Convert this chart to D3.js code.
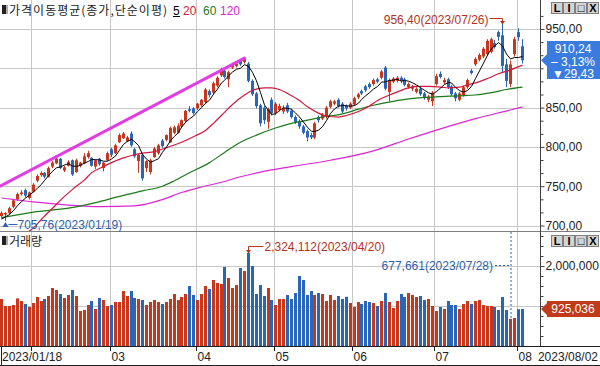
<!DOCTYPE html>
<html>
<head>
<meta charset="utf-8">
<script src="https://cdn.jsdelivr.net/npm/d3@7"></script>
<style>
  body { margin: 0; background: #fff; }
  svg { display: block; }
  text { font-family: "Liberation Sans", Arial, sans-serif; font-size: 12px; }
  .ko { font-family: "Noto Sans CJK KR", sans-serif; }
</style>
</head>
<body>
<svg id="chart" width="600" height="366"></svg>
<script>
// trading days shown on the chart
var dates = [
  "2023/01/18","2023/01/19","2023/01/20","2023/01/25","2023/01/26","2023/01/27","2023/01/30","2023/01/31",
  "2023/02/01","2023/02/02","2023/02/03","2023/02/06","2023/02/07","2023/02/08","2023/02/09","2023/02/10","2023/02/13","2023/02/14",
  "2023/02/15","2023/02/16","2023/02/17","2023/02/20","2023/02/21","2023/02/22","2023/02/23","2023/02/24","2023/02/27","2023/02/28",
  "2023/03/02","2023/03/03","2023/03/06","2023/03/07","2023/03/08","2023/03/09","2023/03/10","2023/03/13","2023/03/14","2023/03/15",
  "2023/03/16","2023/03/17","2023/03/20","2023/03/21","2023/03/22","2023/03/23","2023/03/24","2023/03/27","2023/03/28","2023/03/29",
  "2023/03/30","2023/03/31",
  "2023/04/03","2023/04/04","2023/04/05","2023/04/06","2023/04/07","2023/04/10","2023/04/11","2023/04/12","2023/04/13","2023/04/14",
  "2023/04/17","2023/04/18","2023/04/19","2023/04/20","2023/04/21","2023/04/24","2023/04/25","2023/04/26","2023/04/27","2023/04/28",
  "2023/05/02","2023/05/03","2023/05/04","2023/05/08","2023/05/09","2023/05/10","2023/05/11","2023/05/12","2023/05/15","2023/05/16",
  "2023/05/17","2023/05/18","2023/05/19","2023/05/22","2023/05/23","2023/05/24","2023/05/25","2023/05/26","2023/05/30","2023/05/31",
  "2023/06/01","2023/06/02","2023/06/05","2023/06/07","2023/06/08","2023/06/09","2023/06/12","2023/06/13","2023/06/14","2023/06/15",
  "2023/06/16","2023/06/19","2023/06/20","2023/06/21","2023/06/22","2023/06/23","2023/06/26","2023/06/27","2023/06/28","2023/06/29",
  "2023/06/30",
  "2023/07/03","2023/07/04","2023/07/05","2023/07/06","2023/07/07","2023/07/10","2023/07/11","2023/07/12","2023/07/13","2023/07/14",
  "2023/07/17","2023/07/18","2023/07/19","2023/07/20","2023/07/21","2023/07/24","2023/07/25","2023/07/26","2023/07/27","2023/07/28",
  "2023/07/31",
  "2023/08/01","2023/08/02"
];

var opens = [
  712,714,716,724,733,740,745,735,743,757, 764,767,762,775,779,785,770,776,783,768,
  776,779,787,786,775,785,773,783,797,792, 806,811,807,817,797,782,790,773,768,787,
  792,808,809,806,818,818,826,833,848,849, 849,853,857,871,869,878,891,897,886,901,
  903,910,908,906,884,868,853,850,832,860, 843,847,845,853,846,838,833,826,820,815,
  812,838,836,838,851,855,860,855,852,850, 854,863,871,877,880,880,886,888,901,870,
  883,884,888,886,876,874,870,874,868,860, 858,880,893,882,886,877,868,860,866,876,
  897,905,911,915,918,921,932,946,942,905, 880,918,946,928
];
var highs = [
  718,717,724,734,742,745,747,743,754,765, 769,768,775,782,787,786,776,783,784,785,
  781,792,795,787,784,786,781,794,799,804, 817,819,814,820,799,791,792,783,785,800,
  804,810,816,826,827,830,835,847,852,851, 856,861,875,873,883,890,901,900,897,907,
  908,912,914,908,886,870,855,852,850,863, 857,855,853,856,848,840,835,828,822,818,
  832,840,843,852,860,860,862,857,854,857, 864,869,873,879,882,887,888,898,903,887,
  889,890,890,888,882,879,876,876,870,866, 871,893,896,888,888,879,870,870,878,887,
  899,914,919,927,937,939,936,948,956.4,912, 910,940,951,937
];
var lows = [
  709,705.76,714,722,731,738,736,733,742,755, 762,760,761,773,778,772,768,775,763,767,
  774,778,785,775,772,776,769,782,787,791, 805,810,806,800,786,767,757,768,765,786,
  790,799,807,805,816,817,824,831,844,841, 847,851,855,863,867,876,889,887,876,899,
  901,903,906,882,865,849,826,829,823,840, 841,845,842,843,836,829,823,816,807,810,
  810,831,834,836,849,853,850,843,846,848, 852,861,866,870,874,878,881,886,872,858,
  881,882,881,877,874,871,868,865,860,857, 852,878,887,880,874,865,858,858,864,874,
  892,903,909,913,916,919,925,935,895,876, 876,915,935,906
];
var closes = [
  716,716,722,732,740,742,738,742,752,763, 767,762,773,780,785,773,774,781,765,783,
  780,788,792,776,783,778,780,792,790,802, 815,817,812,802,788,790,760,782,783,798,
  802,801,815,824,825,827,834,846,846,843, 855,860,873,866,881,888,899,889,895,905,
  906,905,912,884,867,852,830,834,848,843, 855,852,850,845,838,831,826,818,812,812,
  830,834,841,850,858,858,852,845,849,855, 862,867,868,872,876,885,883,896,874,885,
  887,888,884,879,880,877,874,867,862,864, 869,890,889,885,876,867,862,868,876,885,
  894,912,917,925,935,937,927,940,903,884, 905,937,939.67,910.24
];
var volumes = [
  1175000,1000000,1000000,1025000,1190000,1125000,1050000,975000,1075000,1225000,
  1125000,1175000,1250000,1450000,1400000,1300000,1200000,1275000,1400000,1250000,
  875000,900000,1025000,1125000,925000,1200000,1150000,1000000,1025000,1100000,
  1100000,1375000,1250000,1375000,1200000,1175000,1150000,1025000,1100000,1150000,
  1100000,1050000,1100000,1175000,1300000,1150000,1225000,1300000,1500000,1275000,
  1150000,1300000,1500000,1425000,1650000,1575000,1550000,1975000,1700000,1450000,
  1525000,1950000,1875000,2324112,2000000,1300000,1525000,1250000,1450000,1150000,
  1025000,1175000,1175000,1275000,1175000,1325000,1750000,1650000,1275000,1375000,
  1275000,1325000,1300000,1125000,1275000,1150000,1250000,1175000,1230000,1075000,
  975000,1100000,1050000,1125000,1100000,1075000,1000000,1125000,1325000,1100000,
  950000,1125000,1300000,1225000,1325000,1275000,1225000,1250000,1150000,1175000,
  1000000,875000,975000,925000,1125000,1025000,1025000,925000,1050000,1125000,
  1050000,1125000,1150000,1025000,1000000,1000000,975000,900000,1225000,900000,
  677661,700000,920000,925036
];

// moving averages: 5-day per candle, longer ones read at points [index, value]
var ma5 = [
  708,711,714,719,725.2,730.4,734.8,738.8,742.8,747.4, 752.4,757.2,763.4,769,773.4,774.6,777,778.6,775.6,775.2,
  776.6,779.4,781.6,783.8,783.8,783.4,781.8,781.8,784.6,788.4, 795.8,803.2,807.2,809.6,806.8,801.8,790.4,784.4,780.6,782.6,
  785,793.2,799.8,808,813.4,818.4,825,831.2,835.6,839.2, 844.8,850,855.4,859.4,867,873.6,881.4,884.6,890.4,895.2,
  898.8,900,904.6,902.4,894.8,884,869,853.4,846.2,841.4, 842,846.4,849.6,849,848,843.2,838,831.6,825,819.8,
  819.6,821.2,825.8,833.4,842.6,848.2,851.8,852.6,852.4,851.8, 852.6,855.6,860.2,864.8,869,873.6,876.8,882.4,882.8,884.6,
  885,886,883.6,884.6,883.6,881.6,878.8,875.4,872,868.8, 867.2,870.4,874.8,879.4,881.8,881.4,875.8,871.6,869.8,871.6,
  877,887,896.8,906.6,916.6,925.2,928.2,932.8,928.4,918.2, 911.8,913.8,913.7,915.2
];
var ma20 = [[6,690],[8,697],[10,708],[13,722],[16,737],[18,746],[21,758],[23,767],[26,775],[28,780],[31,786],
  [34,790],[36,792],[39,794],[42,799],[46,806],[49,813],[52,821],[54,830],[57,844],[59,854],[62,866],[64,872],
  [67,875],[69,875],[71,873],[73,868],[76,859],[78,851],[81,843],[83,839],[86,838],[88,840],[91,845],[94,852],
  [96,859],[99,866],[101,870],[104,875],[106,877],[109,877],[112,876],[114,875],[117,876],[119,879],[122,883],
  [124,887],[127,893],[130,898],[133,904]];
var ma60 = [[0,710],[8,717],[17,722],[24,729],[30,737],[36,744],[41,750],[44,757],[48,767],[53,780],[57,793],
  [61,806],[65,815],[70,824],[74,830],[78,834],[82,838],[87,842],[91,848],[95,853],[100,858],[104,861],[108,863],
  [112,864],[117,865],[121,866],[125,869],[129,873],[133,876]];
var ma120 = [[0,735],[8,730],[17,726],[25,724],[34,725],[41,733],[46,742],[51,749],[56,755],[61,762],[66,768],
  [74,775],[84,783],[95,795],[104,810],[112,823],[121,836],[130,847],[133,851]];

// trend line drawn on the chart [index, price]
var trendLine = [[0, 750], [62, 913]];

var priceTicks = [700, 750, 800, 850, 900, 950];
var priceLabels = [700, 750, 800, 850, 950];   // 900 sits under the price box
var volTicks = [1000000, 2000000];
var volLabels = [2000000];                      // 1,000,000 sits under the volume box

var svg = d3.select("#chart");
var plotRight = 540;
var priceTop = 0, priceBottom = 231;
var volTop = 232, volBottom = 346;

var upColor = "#c8361c", downColor = "#2a66b8";
var gridColor = "#c8c8c8";

var x = d3.scaleBand().domain(d3.range(138)).range([0, plotRight]);
function bx(i) { return Math.round(x(i) + 0.45); } // left of body / bar
function cx(i) { return bx(i) + 1.5; }              // centre of candle
var yP = d3.scaleLinear().domain([700, 950]).range([225.5, 29]);
var yV = d3.scaleLinear().domain([0, 2000000]).range([volBottom, 266]);

var fmtPrice = function(v) { return d3.format(".2f")(v).replace(".", ","); };
var fmtVol = d3.format(",");

var defs = svg.append("defs");
defs.append("clipPath").attr("id", "clipP").append("rect")
    .attr("x", 0).attr("y", priceTop).attr("width", plotRight).attr("height", priceBottom - priceTop);
defs.append("clipPath").attr("id", "clipV").append("rect")
    .attr("x", 0).attr("y", volTop).attr("width", plotRight).attr("height", volBottom - volTop);

// first trading day of every month
var monthStarts = [];
dates.forEach(function(d, i) {
  if (i > 0 && d.slice(5, 7) !== dates[i - 1].slice(5, 7)) monthStarts.push(i);
});

// ---------- grid ----------
var grid = svg.append("g").attr("stroke", gridColor).attr("stroke-width", 1);
monthStarts.forEach(function(i) {
  var gx = Math.round(x(i)) + 0.5;
  grid.append("line").attr("x1", gx).attr("x2", gx).attr("y1", priceTop).attr("y2", priceBottom);
  grid.append("line").attr("x1", gx).attr("x2", gx).attr("y1", volTop).attr("y2", volBottom);
});
priceTicks.forEach(function(v) {
  var gy = Math.round(yP(v)) + 0.5;
  grid.append("line").attr("x1", 0).attr("x2", plotRight).attr("y1", gy).attr("y2", gy);
});
volTicks.forEach(function(v) {
  var gy = Math.round(yV(v)) + 0.5;
  grid.append("line").attr("x1", 0).attr("x2", plotRight).attr("y1", gy).attr("y2", gy);
});

// ---------- candles ----------
var pg = svg.append("g").attr("clip-path", "url(#clipP)");
var candle = pg.selectAll("g.candle").data(dates).enter().append("g")
    .attr("fill", function(d, i) { return closes[i] >= opens[i] ? upColor : downColor; })
    .attr("stroke", function(d, i) { return closes[i] >= opens[i] ? upColor : downColor; });
candle.append("line")
    .attr("x1", function(d, i) { return cx(i); })
    .attr("x2", function(d, i) { return cx(i); })
    .attr("y1", function(d, i) { return yP(highs[i]); })
    .attr("y2", function(d, i) { return yP(lows[i]); });
candle.append("rect")
    .attr("stroke", "none")
    .attr("x", function(d, i) { return bx(i); })
    .attr("width", 3)
    .attr("y", function(d, i) { return yP(Math.max(opens[i], closes[i])); })
    .attr("height", function(d, i) { return Math.max(1, yP(Math.min(opens[i], closes[i])) - yP(Math.max(opens[i], closes[i]))); });

// ---------- moving averages ----------
var smooth = d3.line().x(function(d) { return cx(d[0]); }).y(function(d) { return yP(d[1]); }).curve(d3.curveMonotoneX);
pg.append("path").datum(ma120).attr("d", smooth).attr("fill", "none").attr("stroke", "#e024d8").attr("stroke-width", 1.2);
pg.append("path").datum(ma60).attr("d", smooth).attr("fill", "none").attr("stroke", "#1c7a1c").attr("stroke-width", 1.2);
pg.append("path").datum(ma20).attr("d", smooth).attr("fill", "none").attr("stroke", "#d2183c").attr("stroke-width", 1.2);
pg.append("path").datum(ma5.map(function(v, i) { return [i, v]; }))
    .attr("d", d3.line().x(function(d) { return cx(d[0]); }).y(function(d) { return yP(d[1]); }))
    .attr("fill", "none").attr("stroke", "#000").attr("stroke-width", 1);

// trend line
pg.append("line")
    .attr("x1", 0).attr("y1", yP(trendLine[0][1]))
    .attr("x2", cx(trendLine[1][0])).attr("y2", yP(trendLine[1][1]))
    .attr("stroke", "#e23ce4").attr("stroke-width", 3).attr("stroke-linecap", "round");

// ---------- volume ----------
var vg = svg.append("g").attr("clip-path", "url(#clipV)");
vg.selectAll("rect").data(volumes).enter().append("rect")
    .attr("x", function(d, i) { return bx(i); })
    .attr("width", 3)
    .attr("y", function(d) { return yV(d); })
    .attr("height", function(d) { return volBottom - yV(d); })
    .attr("fill", function(d, i) { return closes[i] >= opens[i] ? upColor : downColor; });

// ---------- frame & right axes ----------
svg.append("line").attr("x1", 0).attr("x2", 600).attr("y1", 231.5).attr("y2", 231.5).attr("stroke", "#808080");
svg.append("line").attr("x1", plotRight + 0.5).attr("x2", plotRight + 0.5).attr("y1", 0).attr("y2", volBottom).attr("stroke", "#404040");

function rightAxis(scale, values, size, fmt) {
  var a = svg.append("g").attr("transform", "translate(" + (plotRight + 0.5) + ",0)")
      .call(d3.axisRight(scale).tickValues(values).tickSize(size).tickPadding(1).tickFormat(fmt));
  a.select(".domain").remove();
  a.selectAll("text").attr("fill", "#222").style("font-family", "Liberation Sans, Arial, sans-serif").style("font-size", "12px");
  a.selectAll("line").attr("stroke", "#404040");
  return a;
}
rightAxis(yP, priceLabels, 4, fmtPrice);
rightAxis(yP, d3.range(700, 975, 50 / 3).filter(function(v) { return priceLabels.indexOf(v) < 0; }), 3, function() { return null; });
rightAxis(yV, volLabels, 4, fmtVol);
rightAxis(yV, d3.range(250000, 2750001, 250000).filter(function(v) { return volLabels.indexOf(v) < 0; }), 3, function() { return null; });
svg.selectAll("g.tick text").filter(function() { return this.textContent === ""; }).remove();

// ---------- bottom date axis ----------
svg.append("line").attr("x1", 0).attr("x2", 600).attr("y1", 346.5).attr("y2", 346.5).attr("stroke", "#202020");
svg.append("line").attr("x1", 0).attr("x2", 600).attr("y1", 365.5).attr("y2", 365.5).attr("stroke", "#202020");
svg.append("line").attr("x1", 1.5).attr("x2", 1.5).attr("y1", 346).attr("y2", 366).attr("stroke", "#202020");
var xa = svg.append("g");
monthStarts.forEach(function(i) {
  var tx = Math.round(x(i)) + 0.5;
  xa.append("line").attr("x1", tx).attr("x2", tx).attr("y1", 347).attr("y2", 351).attr("stroke", "#202020");
  if (tx > 64) xa.append("text").attr("x", tx + 1).attr("y", 361).attr("fill", "#222").text(dates[i].slice(5, 7));
});
xa.append("text").attr("x", 2).attr("y", 361).attr("fill", "#222").text(dates[0]);
xa.append("text").attr("x", 598).attr("y", 361).attr("text-anchor", "end").attr("fill", "#222").text(dates[dates.length - 1]);

// ---------- max / min annotations ----------
var hiIdx = d3.maxIndex(highs), loIdx = d3.minIndex(lows);
var vHiIdx = d3.maxIndex(volumes), vLoIdx = d3.minIndex(volumes);
var red = "#b3321e", blue = "#2d5fae";

var hx = cx(hiIdx), hy = yP(highs[hiIdx]);
svg.append("path").attr("d", "M" + (hx - 13) + "," + (hy - 5.5) + "H" + hx + "V" + (hy - 1))
    .attr("fill", "none").attr("stroke", red);
svg.append("path").attr("d", "M" + (hx - 2.5) + "," + (hy - 3) + "L" + (hx + 2.5) + "," + (hy - 3) + "L" + hx + "," + (hy + 0.5) + "Z").attr("fill", red);
svg.append("text").attr("x", hx - 14).attr("y", hy).attr("text-anchor", "end").attr("fill", red)
    .text(fmtPrice(highs[hiIdx]) + "(" + dates[hiIdx] + ")");

var lx = cx(loIdx), ly = yP(lows[loIdx]);
svg.append("path").attr("d", "M" + (lx - 3) + "," + (ly + 6) + "L" + (lx + 3) + "," + (ly + 6) + "L" + lx + "," + (ly + 1) + "Z").attr("fill", blue);
svg.append("line").attr("x1", lx + 3).attr("x2", lx + 12).attr("y1", ly + 3.5).attr("y2", ly + 3.5).attr("stroke", blue);
svg.append("text").attr("x", lx + 12).attr("y", ly + 8).attr("fill", blue)
    .text(fmtPrice(lows[loIdx]) + "(" + dates[loIdx] + ")");

var vhx = cx(vHiIdx), vhy = yV(volumes[vHiIdx]);
svg.append("path").attr("d", "M" + (vhx + 15) + "," + (vhy - 6.5) + "H" + vhx + "V" + (vhy - 1))
    .attr("fill", "none").attr("stroke", red);
svg.append("path").attr("d", "M" + (vhx - 2.5) + "," + (vhy - 3) + "L" + (vhx + 2.5) + "," + (vhy - 3) + "L" + vhx + "," + (vhy + 0.5) + "Z").attr("fill", red);
svg.append("text").attr("x", vhx + 16).attr("y", vhy - 2).attr("fill", red)
    .text(fmtVol(volumes[vHiIdx]) + "(" + dates[vHiIdx] + ")");

var vlx = cx(vLoIdx) + 0.5;
svg.append("line").attr("x1", vlx).attr("x2", vlx).attr("y1", volTop).attr("y2", volBottom)
    .attr("stroke", blue).attr("stroke-dasharray", "2,2");
svg.append("line").attr("x1", vlx - 16).attr("x2", vlx).attr("y1", 265.5).attr("y2", 265.5)
    .attr("stroke", blue).attr("stroke-dasharray", "2,2");
svg.append("text").attr("x", vlx - 18).attr("y", 270).attr("text-anchor", "end").attr("fill", blue)
    .text(fmtVol(volumes[vLoIdx]) + "(" + dates[vLoIdx] + ")");

// ---------- last value boxes ----------
var last = closes.length - 1;
var chg = closes[last] - closes[last - 1];
var ly0 = yP(closes[last]);
svg.append("path")
    .attr("d", "M541," + ly0 + "L547," + (ly0 - 6) + "V41H600V79H547V" + (ly0 + 6) + "Z")
    .attr("fill", "#3a7be0");
var boxText = [fmtPrice(closes[last]), "\u2013 " + fmtPrice(Math.abs(chg / closes[last - 1] * 100)) + "%", "\u25BC" + fmtPrice(Math.abs(chg))];
boxText.forEach(function(t, k) {
  svg.append("text").attr("x", 573).attr("y", 53 + k * 12.5).attr("text-anchor", "middle").attr("fill", "#fff").text(t);
});
var vy0 = yV(volumes[last]);
svg.append("path")
    .attr("d", "M541," + vy0 + "L547," + (vy0 - 6) + "V" + (vy0 - 8) + "H600V" + (vy0 + 8) + "H547V" + (vy0 + 6) + "Z")
    .attr("fill", "#c23a1c");
svg.append("text").attr("x", 573).attr("y", vy0 + 4.5).attr("text-anchor", "middle").attr("fill", "#fff").text(fmtVol(volumes[last]));

// ---------- panel titles ----------
function panelIcon(y) {
  svg.append("rect").attr("x", 2).attr("y", y).attr("width", 4).attr("height", 9).attr("fill", "#222");
  svg.append("rect").attr("x", 6).attr("y", y).attr("width", 2).attr("height", 9).attr("fill", "#aaa");
}
panelIcon(5);
svg.append("text").attr("class", "ko").attr("x", 9).attr("y", 15).attr("fill", "#222")
    .attr("textLength", 158).attr("lengthAdjust", "spacing").text("가격이동평균(종가,단순이평)");
var legend = [["5", "#000", 173], ["20", "#d2183c", 183], ["60", "#1c7a1c", 203], ["120", "#e024d8", 220]];
legend.forEach(function(l) {
  svg.append("text").attr("x", l[2]).attr("y", 15).attr("fill", l[1]).text(l[0]);
});
svg.append("line").attr("x1", 173).attr("x2", 180).attr("y1", 16.5).attr("y2", 16.5).attr("stroke", "#000");
panelIcon(236);
svg.append("text").attr("class", "ko").attr("x", 9).attr("y", 246).attr("fill", "#222").text("거래량");

// ---------- little window buttons ----------
function buttons(y) {
  ["L", "I", "\u25A1", "X"].forEach(function(s, k) {
    var bxp = 551 + k * 12;
    svg.append("rect").attr("x", bxp + 0.5).attr("y", y + 0.5).attr("width", 11).attr("height", 11)
        .attr("fill", "#d4d4d4").attr("stroke", "#808080");
    svg.append("text").attr("x", bxp + 6).attr("y", y + 10).attr("text-anchor", "middle")
        .attr("fill", "#000").style("font-size", "11px").style("font-weight", "bold").text(s);
  });
}
buttons(2);
buttons(235);
</script>
</body>
</html>
